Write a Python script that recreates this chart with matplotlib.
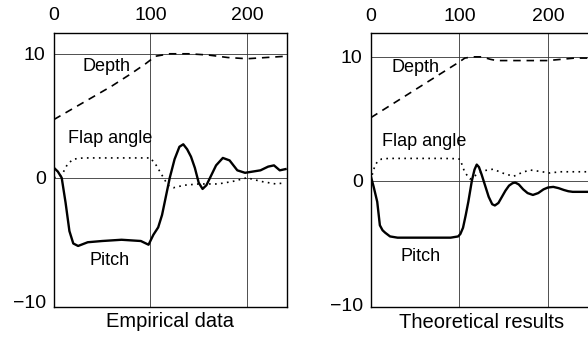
import matplotlib
matplotlib.use("Agg")
import matplotlib.pyplot as plt

plt.rcParams['font.family'] = ['Liberation Sans', 'DejaVu Sans']

# ---- Empirical data ----
emp_depth_t = [0, 20, 40, 60, 80, 95, 105, 120, 140, 160, 180, 200, 220, 240]
emp_depth_v = [4.7, 5.6, 6.5, 7.4, 8.4, 9.2, 9.8, 10.0, 10.0, 9.9, 9.7, 9.6, 9.7, 9.8]

emp_flap_t = [0, 8, 14, 20, 30, 50, 70, 90, 100, 106, 112, 118, 124, 135, 150,
              170, 185, 200, 215, 230, 240]
emp_flap_v = [0.0, 0.2, 1.1, 1.5, 1.6, 1.6, 1.6, 1.6, 1.6, 1.0, 0.2, -0.6, -0.8,
              -0.6, -0.5, -0.5, -0.3, 0.0, -0.3, -0.5, -0.4]

emp_pitch_t = [0, 4, 8, 12, 16, 20, 25, 35, 50, 70, 90, 98, 103, 108, 112, 116,
               120, 125, 130, 134, 138, 142, 146, 150, 154, 158, 163, 168, 175,
               182, 190, 198, 206, 214, 222, 228, 234, 240]
emp_pitch_v = [0.8, 0.5, 0.0, -2.0, -4.3, -5.3, -5.5, -5.2, -5.1, -5.0, -5.1,
               -5.4, -4.6, -4.0, -3.0, -1.5, 0.0, 1.5, 2.5, 2.7, 2.3, 1.7, 0.8,
               -0.4, -0.9, -0.6, 0.2, 1.0, 1.6, 1.4, 0.6, 0.4, 0.5, 0.6, 0.9,
               1.0, 0.6, 0.7]

# ---- Theoretical results ----
th_depth_t = [0, 20, 40, 60, 80, 100, 106, 115, 125, 135, 142, 155, 170, 185,
              200, 215, 230, 251]
th_depth_v = [5.1, 6.0, 6.9, 7.8, 8.7, 9.6, 9.9, 10.0, 10.0, 9.8, 9.7, 9.7,
              9.7, 9.7, 9.7, 9.8, 9.9, 9.9]

th_flap_t = [0, 2, 5, 8, 12, 20, 40, 60, 80, 95, 100.6, 106, 112, 117.5, 127,
             138, 149.5, 161, 172, 180, 191, 202, 213.5, 230, 251]
th_flap_v = [0.0, 0.7, 1.3, 1.6, 1.75, 1.8, 1.8, 1.8, 1.8, 1.78, 1.74, 0.67,
             0.13, 0.4, 0.8, 0.93, 0.6, 0.35, 0.7, 0.86, 0.75, 0.62, 0.72,
             0.72, 0.72]

th_pitch_t = [0, 3, 7, 10, 13, 16, 21.5, 30, 50, 70, 90, 98.5, 101, 104, 107,
              110, 114, 117, 119.5, 122, 125, 129, 133, 137, 140, 144, 148,
              152, 156, 160, 163, 167, 172, 177, 183, 189, 195, 200, 206, 212,
              218, 223, 228, 235, 245, 251]
th_pitch_v = [0.3, -0.5, -1.7, -3.6, -4.0, -4.2, -4.5, -4.6, -4.6, -4.6, -4.6,
              -4.5, -4.3, -3.8, -2.8, -1.7, 0.0, 0.9, 1.3, 1.1, 0.5, -0.4,
              -1.3, -1.9, -2.0, -1.8, -1.3, -0.8, -0.4, -0.2, -0.15, -0.3,
              -0.7, -1.0, -1.15, -1.0, -0.7, -0.55, -0.5, -0.6, -0.75, -0.85,
              -0.9, -0.9, -0.9, -0.9]

x_ticks = [0, 100, 200]
x_tick_labels = ['0', '100', '200']
y_ticks = [-10, 0, 10]
y_tick_labels = ['\u221210', '0', '10']

panels = [
    dict(rect=[0.0918, 0.0979, 0.3963, 0.8059], xlim=(0, 241.5), ylim=(-10.4, 11.7),
         depth=(emp_depth_t, emp_depth_v), flap=(emp_flap_t, emp_flap_v),
         pitch=(emp_pitch_t, emp_pitch_v), title='Empirical data',
         depth_lbl=(54, 9.0), flap_lbl=(58, 3.2), pitch_lbl=(58, -6.7)),
    dict(rect=[0.631, 0.097, 0.3776, 0.805], xlim=(0, 251), ylim=(-10.2, 11.9),
         depth=(th_depth_t, th_depth_v), flap=(th_flap_t, th_flap_v),
         pitch=(th_pitch_t, th_pitch_v), title='Theoretical results',
         depth_lbl=(50, 9.1), flap_lbl=(60, 3.2), pitch_lbl=(56, -6.1)),
]

fig = plt.figure(figsize=(5.88, 3.40), dpi=100)
fig.patch.set_facecolor('white')

for p in panels:
    ax = fig.add_axes(p['rect'])
    ax.set_xlim(*p['xlim'])
    ax.set_ylim(*p['ylim'])

    # reference grid lines
    for xv in [100, 200]:
        ax.axvline(xv, color='#333333', lw=0.6, zorder=1)
    for yv in [0, 10]:
        ax.axhline(yv, color='#333333', lw=0.6, zorder=1)

    ax.plot(*p['depth'], color='black', lw=1.2, linestyle=(0, (4.5, 3.5)), zorder=3)
    ax.plot(*p['flap'], color='black', lw=1.2, linestyle=(0, (1, 2.6)), zorder=3)
    ax.plot(*p['pitch'], color='black', lw=1.7, solid_joinstyle='round', zorder=4)

    ax.text(*p['depth_lbl'], 'Depth', fontsize=13, ha='center', va='center')
    ax.text(*p['flap_lbl'], 'Flap angle', fontsize=13, ha='center', va='center')
    ax.text(*p['pitch_lbl'], 'Pitch', fontsize=13, ha='center', va='center')

    ax.xaxis.tick_top()
    ax.set_xticks(x_ticks)
    ax.set_xticklabels(x_tick_labels)
    ax.set_yticks(y_ticks)
    ax.set_yticklabels(y_tick_labels)
    ax.tick_params(axis='both', length=0, labelsize=14)
    ax.tick_params(axis='x', pad=6)
    ax.tick_params(axis='y', pad=6)
    ax.set_xlabel(p['title'], fontsize=14.5, labelpad=4)
    ax.xaxis.set_label_position('bottom')
    for s in ax.spines.values():
        s.set_color('black')
        s.set_linewidth(1.0)

fig.savefig('out.png', dpi=100, facecolor='white')
